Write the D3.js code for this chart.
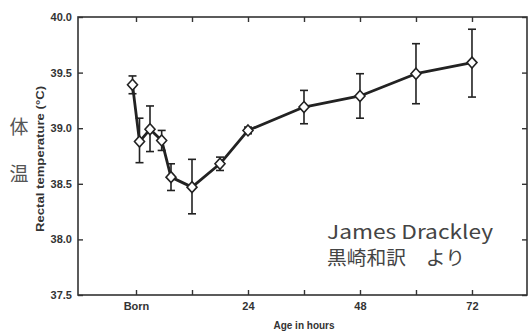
<!DOCTYPE html>
<html>
<head>
<meta charset="utf-8">
<script src="https://cdn.jsdelivr.net/npm/d3@7"></script>
<style>
  body { margin: 0; background: #fff; }
  svg { display: block; }
</style>
</head>
<body>
<script>

var hours = [-0.75, 0.75, 3, 5.5, 7.5, 12, 18, 24, 36, 48, 60, 72];
var temps = [39.39, 38.88, 38.99, 38.89, 38.56, 38.47, 38.68, 38.98, 39.19, 39.29, 39.49, 39.59];
var errUp = [39.47, 39.09, 39.20, 38.98, 38.68, 38.72, 38.74, 39.01, 39.34, 39.49, 39.76, 39.89];
var errDn = [39.31, 38.69, 38.79, 38.80, 38.44, 38.23, 38.62, 38.95, 39.04, 39.09, 39.22, 39.28];
var xTicks = [0, 12, 24, 36, 48, 60, 72];
var xLabels = {0: "Born", 24: "24", 48: "48", 72: "72"};
var yTicks = [37.5, 38.0, 38.5, 39.0, 39.5, 40.0];

var svg = d3.select("body").append("svg")
  .attr("width", 530)
  .attr("height", 331);

var x = d3.scaleLinear().domain([-12.43, 83.79]).range([78, 527]);
var y = d3.scaleLinear().domain([37.5, 40.0]).range([295, 17]);

var ink = "#222";

// frame
svg.append("rect")
  .attr("x", 78).attr("y", 17)
  .attr("width", 527 - 78).attr("height", 295 - 17)
  .attr("fill", "none").attr("stroke", "#333").attr("stroke-width", 1.6);

// axes, ticks pointing inward on all four sides
var axBottom = svg.append("g")
  .attr("transform", "translate(0,295)")
  .call(d3.axisBottom(x).tickValues(xTicks).tickSize(-5)
    .tickFormat(function(d) { return xLabels[d] || ""; }));
axBottom.select(".domain").remove();

var axTop = svg.append("g")
  .attr("transform", "translate(0,17)")
  .call(d3.axisTop(x).tickValues(xTicks).tickSize(-5).tickFormat(""));
axTop.select(".domain").remove();

var axLeft = svg.append("g")
  .attr("transform", "translate(78,0)")
  .call(d3.axisLeft(y).tickValues(yTicks).tickSize(-5).tickPadding(6)
    .tickFormat(d3.format(".1f")));
axLeft.select(".domain").remove();

var axRight = svg.append("g")
  .attr("transform", "translate(527,0)")
  .call(d3.axisRight(y).tickValues(yTicks).tickSize(-5).tickFormat(""));
axRight.select(".domain").remove();

svg.selectAll(".tick line").attr("stroke", "#333").attr("stroke-width", 1.4);
svg.selectAll(".tick text")
  .attr("fill", "#333")
  .style("font-family", "'Liberation Sans', Arial, sans-serif")
  .style("font-weight", "bold")
  .style("font-size", "11px");
axBottom.selectAll(".tick text").attr("y", 3).attr("dy", "1.1em");
axLeft.selectAll(".tick text").attr("x", -6);

// axis titles
svg.append("text")
  .attr("x", 304).attr("y", 329)
  .attr("text-anchor", "middle")
  .attr("fill", "#333")
  .style("font-family", "'Liberation Sans', Arial, sans-serif")
  .style("font-weight", "bold")
  .style("font-size", "10px")
  .text("Age in hours");

svg.append("text")
  .attr("transform", "translate(44,159) rotate(-90)")
  .attr("text-anchor", "middle")
  .attr("fill", "#333")
  .attr("textLength", 146)
  .attr("lengthAdjust", "spacingAndGlyphs")
  .style("font-family", "'Liberation Sans', Arial, sans-serif")
  .style("font-weight", "bold")
  .style("font-size", "11px")
  .text("Rectal temperature (°C)");

svg.selectAll(".jp")
  .data(["体", "温"])
  .enter().append("text")
  .attr("x", 19)
  .attr("y", function(d, i) { return 134 + i * 47; })
  .attr("text-anchor", "middle")
  .attr("fill", "#555")
  .style("font-family", "'Noto Sans CJK JP', sans-serif")
  .style("font-size", "19px")
  .text(function(d) { return d; });

// error bars
var pts = hours.map(function(h, i) {
  return { h: h, t: temps[i], up: errUp[i], dn: errDn[i] };
});

var eb = svg.append("g").attr("stroke", ink).attr("stroke-width", 1.6);
eb.selectAll(".v").data(pts).enter().append("line")
  .attr("x1", function(d) { return x(d.h); })
  .attr("x2", function(d) { return x(d.h); })
  .attr("y1", function(d) { return y(d.up); })
  .attr("y2", function(d) { return y(d.dn); });
eb.selectAll(".cu").data(pts).enter().append("line")
  .attr("x1", function(d) { return x(d.h) - 4; })
  .attr("x2", function(d) { return x(d.h) + 4; })
  .attr("y1", function(d) { return y(d.up); })
  .attr("y2", function(d) { return y(d.up); });
eb.selectAll(".cd").data(pts).enter().append("line")
  .attr("x1", function(d) { return x(d.h) - 4; })
  .attr("x2", function(d) { return x(d.h) + 4; })
  .attr("y1", function(d) { return y(d.dn); })
  .attr("y2", function(d) { return y(d.dn); });

// line
svg.append("path")
  .datum(pts)
  .attr("fill", "none")
  .attr("stroke", ink)
  .attr("stroke-width", 2.8)
  .attr("stroke-linejoin", "round")
  .attr("d", d3.line()
    .x(function(d) { return x(d.h); })
    .y(function(d) { return y(d.t); }));

// diamonds
svg.selectAll(".pt").data(pts).enter().append("path")
  .attr("transform", function(d) { return "translate(" + x(d.h) + "," + y(d.t) + ")"; })
  .attr("d", "M0,-5.5L5,0L0,5.5L-5,0Z")
  .attr("fill", "#fff")
  .attr("stroke", ink)
  .attr("stroke-width", 1.6);

// note
var note = svg.append("g")
  .attr("fill", "#444")
  .style("font-family", "'Noto Sans CJK JP', 'Noto Sans', sans-serif");
note.append("text")
  .attr("x", 327).attr("y", 239)
  .attr("textLength", 166)
  .attr("lengthAdjust", "spacingAndGlyphs")
  .style("font-size", "19px")
  .text("James Drackley");
note.append("text")
  .attr("x", 327).attr("y", 265)
  .attr("textLength", 138)
  .attr("lengthAdjust", "spacingAndGlyphs")
  .style("font-size", "19px")
  .text("黒崎和訳　より");

</script>
</body>
</html>
